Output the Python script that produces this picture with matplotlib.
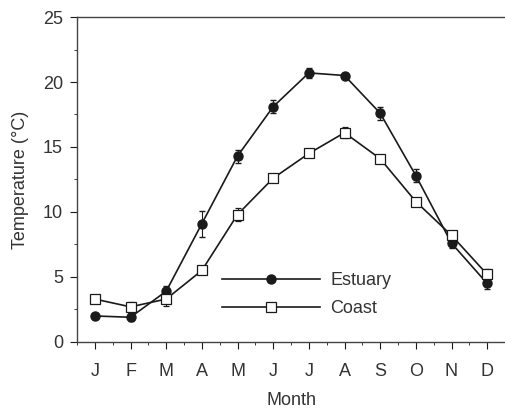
import numpy as np
import matplotlib
matplotlib.use("Agg")
import matplotlib.pyplot as plt
from matplotlib.lines import Line2D
from matplotlib.ticker import MultipleLocator

plt.rcParams['font.family'] = ['Liberation Sans', 'DejaVu Sans']

months = ['J', 'F', 'M', 'A', 'M', 'J', 'J', 'A', 'S', 'O', 'N', 'D']
estuary = [2.0, 1.9, 3.9, 9.1, 14.3, 18.1, 20.7, 20.5, 17.6, 12.8, 7.6, 4.5]
estuary_err = [0.2, 0.3, 0.4, 1.0, 0.5, 0.5, 0.4, 0.2, 0.5, 0.5, 0.4, 0.4]
coast = [3.3, 2.7, 3.3, 5.5, 9.8, 12.6, 14.5, 16.1, 14.1, 10.8, 8.2, 5.2]
coast_err = [0.3, 0.4, 0.5, 0.3, 0.5, 0.3, 0.3, 0.4, 0.3, 0.3, 0.3, 0.4]

ink = '#1a1a1a'
txt = '#333333'
fig = plt.figure(figsize=(5.05, 4.15), dpi=100)
ax = fig.add_axes([0.1525, 0.176, 0.8475, 0.783])

x = np.arange(len(months))
est_style = dict(color=ink, lw=1.2, marker='o', ms=6.5, mfc=ink, mec=ink)
coast_style = dict(color=ink, lw=1.2, marker='s', ms=7, mfc='white',
                   mec=ink, mew=0.9)
ax.errorbar(x, estuary, yerr=estuary_err, capsize=2.5, elinewidth=0.8,
            **est_style)
ax.errorbar(x, coast, yerr=coast_err, capsize=2.5, elinewidth=0.8,
            **coast_style)

ax.set_xlim(-0.5, 11.5)
ax.set_ylim(0, 25)
ax.set_xticks(x)
ax.set_xticklabels(months)
ax.set_yticks([0, 5, 10, 15, 20, 25])
ax.xaxis.set_minor_locator(MultipleLocator(0.5))
ax.yaxis.set_minor_locator(MultipleLocator(2.5))
ax.tick_params(axis='both', which='major', length=5, width=0.8,
               labelsize=13, colors=ink, labelcolor=txt)
ax.tick_params(axis='x', which='major', pad=10)
ax.tick_params(axis='y', which='major', pad=5)
ax.tick_params(axis='both', which='minor', length=2.5, width=0.6, colors=ink)

for side in ['left', 'bottom', 'top']:
    ax.spines[side].set_linewidth(1.0)
    ax.spines[side].set_color('#444444')
ax.spines['right'].set_visible(False)

ax.set_xlabel('Month', fontsize=13, color=txt, labelpad=9)
ax.set_ylabel('Temperature (°C)', fontsize=13, color=txt, labelpad=10)

# legend without the error bar glyphs
handles = [Line2D([], [], **est_style), Line2D([], [], **coast_style)]
ax.legend(handles, ['Estuary', 'Coast'], loc='center left',
          bbox_to_anchor=(0.339, 0.145), frameon=False, fontsize=13,
          handlelength=5.4, handletextpad=0.6, labelspacing=0.6,
          borderpad=0, borderaxespad=0, labelcolor=txt)

fig.savefig('out.png', dpi=100)
